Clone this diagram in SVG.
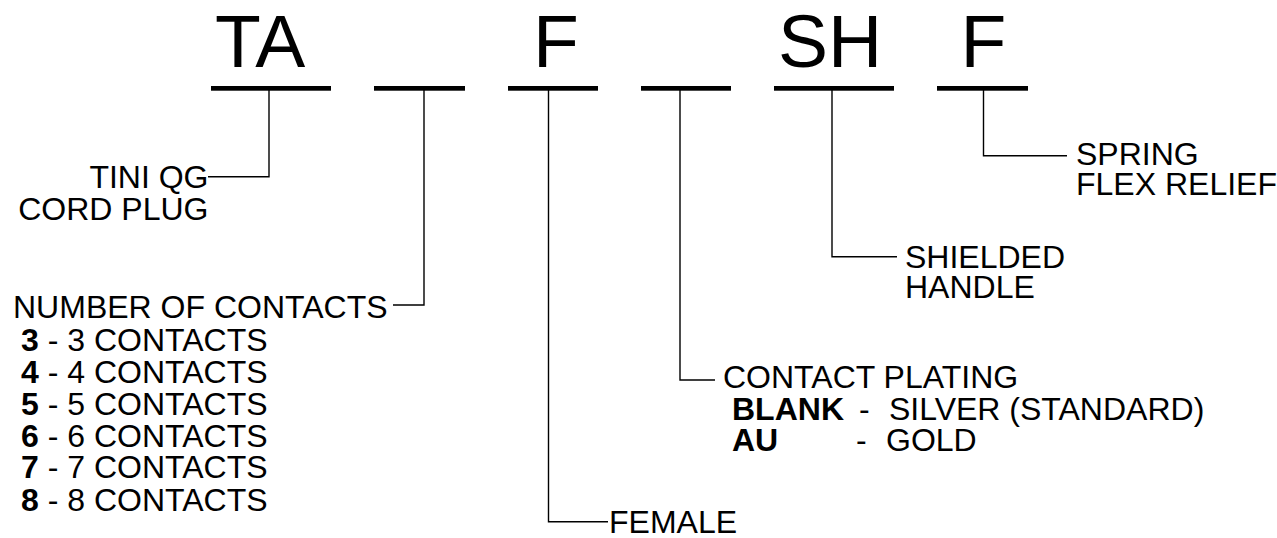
<svg xmlns="http://www.w3.org/2000/svg" width="1277" height="538" viewBox="0 0 1277 538">
<style>
text{font-family:"Liberation Sans",Arial,sans-serif;fill:#000}
.big{font-size:75px}
.lbl{font-size:32px}
.b{font-weight:bold}
.bar{fill:#000}
.ln{fill:none;stroke:#000;stroke-width:1.4}
</style>
<rect width="1277" height="538" fill="#fff"/>
<g id="code">
<text class="big" x="215" y="66.5">TA</text>
<text class="big" x="533" y="66.5">F</text>
<text class="big" x="778" y="66.5">SH</text>
<text class="big" x="960.5" y="66.5">F</text>
<rect class="bar" x="211" y="86" width="120" height="4.7"/>
<rect class="bar" x="374" y="86" width="91" height="4.7"/>
<rect class="bar" x="508" y="86" width="90" height="4.7"/>
<rect class="bar" x="641" y="86" width="90" height="4.7"/>
<rect class="bar" x="774" y="86" width="120" height="4.7"/>
<rect class="bar" x="937" y="86" width="91" height="4.7"/>
</g>
<g id="connectors">
<polyline class="ln" points="269,90 269,176.7 208,176.7"/>
<polyline class="ln" points="424,90 424,305 393,305"/>
<polyline class="ln" points="548.5,90 548.5,521.7 608,521.7"/>
<polyline class="ln" points="680,90 680,380 715,380"/>
<polyline class="ln" points="832,90 832,256.7 897,256.7"/>
<polyline class="ln" points="983.5,90 983.5,155.7 1067,155.7"/>
</g>
<g id="tini">
<text class="lbl" x="208.5" y="188.3" text-anchor="end">TINI QG</text>
<text class="lbl" x="208.5" y="220" text-anchor="end">CORD PLUG</text>
</g>
<g id="contacts">
<text class="lbl" x="13" y="318.3">NUMBER OF CONTACTS</text>
<text class="lbl" x="21" y="351"><tspan class="b">3</tspan> - 3 CONTACTS</text>
<text class="lbl" x="21" y="383"><tspan class="b">4</tspan> - 4 CONTACTS</text>
<text class="lbl" x="21" y="415"><tspan class="b">5</tspan> - 5 CONTACTS</text>
<text class="lbl" x="21" y="446.7"><tspan class="b">6</tspan> - 6 CONTACTS</text>
<text class="lbl" x="21" y="478.3"><tspan class="b">7</tspan> - 7 CONTACTS</text>
<text class="lbl" x="21" y="510.5"><tspan class="b">8</tspan> - 8 CONTACTS</text>
</g>
<g id="female">
<text class="lbl" x="609" y="532.7">FEMALE</text>
</g>
<g id="plating">
<text class="lbl" x="723" y="388.3">CONTACT PLATING</text>
<text class="lbl" x="732" y="420"><tspan class="b">BLANK</tspan><tspan x="859">-</tspan><tspan x="889">SILVER (STANDARD)</tspan></text>
<text class="lbl" x="732" y="450.7"><tspan class="b">AU</tspan><tspan x="856">-</tspan><tspan x="886">GOLD</tspan></text>
</g>
<g id="shielded">
<text class="lbl" x="905" y="267.7">SHIELDED</text>
<text class="lbl" x="905" y="298">HANDLE</text>
</g>
<g id="spring">
<text class="lbl" x="1076" y="165">SPRING</text>
<text class="lbl" x="1076" y="195">FLEX RELIEF</text>
</g>
</svg>
